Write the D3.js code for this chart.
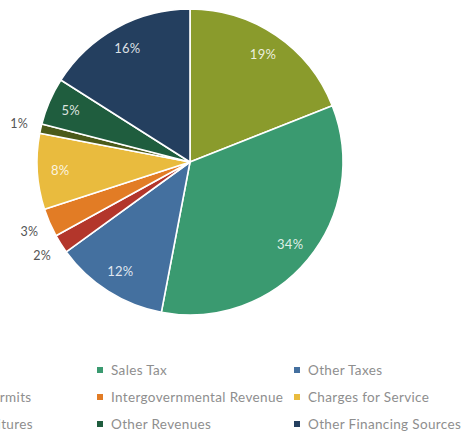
<!DOCTYPE html>
<html>
<head>
<meta charset="utf-8">
<script src="https://cdn.jsdelivr.net/npm/d3@7"></script>
<style>
  body { margin: 0; background: #fff; }
  svg { display: block; font-family: Lato, "Open Sans", sans-serif; }
</style>
</head>
<body>
<div id="chart"></div>
<script>
var categories = ['Property Tax', 'Sales Tax', 'Other Taxes',
    'Licenses and Permits', 'Intergovernmental Revenue', 'Charges for Service',
    'Fines and Forfeitures', 'Other Revenues', 'Other Financing Sources'];
var shares = [19, 34, 12, 2, 3, 8, 1, 5, 16];
var colors = ['#8a9b2c', '#3a9a70', '#44709f', '#b3362b', '#e27c25',
    '#e9bb3e', '#4b5a1a', '#1f5d3e', '#243f5f'];
// which labels sit outside the pie (small slices)
var outside = [false, false, false, true, true, false, true, false, false];

var width = 461;
var height = 434;
var radius = 153;
var cx = 190, cy = 162;

var color = d3.scaleOrdinal(categories, colors);

var svg = d3.select('#chart')
    .append('svg')
    .attr('width', width)
    .attr('height', height);

var g = svg.append('g')
    .attr('transform', 'translate(' + cx + ',' + cy + ')');

var pie = d3.pie()
    .value(function (d, i) { return shares[i]; })
    .sort(null);

var arc = d3.arc().innerRadius(0).outerRadius(radius);
var labelArc = d3.arc().innerRadius(130).outerRadius(130);
var outerArc = d3.arc().innerRadius(175).outerRadius(175);

var arcs = pie(categories);

g.selectAll('path')
    .data(arcs)
    .enter()
    .append('path')
    .attr('d', arc)
    .attr('fill', function (d) { return color(d.data); })
    .attr('stroke', '#fff')
    .attr('stroke-width', 1.6)
    .attr('stroke-linejoin', 'round');

g.selectAll('text.pct')
    .data(arcs)
    .enter()
    .append('text')
    .attr('class', 'pct')
    .each(function (d, i) {
        var c = outside[i] ? outerArc.centroid(d) : labelArc.centroid(d);
        d3.select(this)
            .attr('x', c[0])
            .attr('y', c[1])
            .attr('dy', '0.35em')
            .attr('text-anchor', 'middle')
            .attr('font-size', outside[i] ? 12.5 : 13)
            .attr('letter-spacing', 0.3)
            .attr('fill', outside[i] ? '#555' : 'rgba(255,255,255,0.85)')
            .text(shares[i] + '%');
    });

// legend, three columns, first one runs off the left edge
var colX = [-110, 100, 297];
var rowY = [370, 397, 424];

var legend = svg.selectAll('g.legend')
    .data(categories)
    .enter()
    .append('g')
    .attr('class', 'legend')
    .attr('transform', function (d, i) {
        return 'translate(' + colX[i % 3] + ',' + rowY[Math.floor(i / 3)] + ')';
    });

legend.append('rect')
    .attr('x', -3)
    .attr('y', -3)
    .attr('width', 6)
    .attr('height', 6)
    .attr('fill', function (d) { return color(d); });

legend.append('text')
    .attr('x', 11)
    .attr('dy', '0.35em')
    .attr('font-size', 13.5)
    .attr('letter-spacing', 0.35)
    .attr('fill', '#8e8e8e')
    .text(function (d) { return d; });
</script>
</body>
</html>
